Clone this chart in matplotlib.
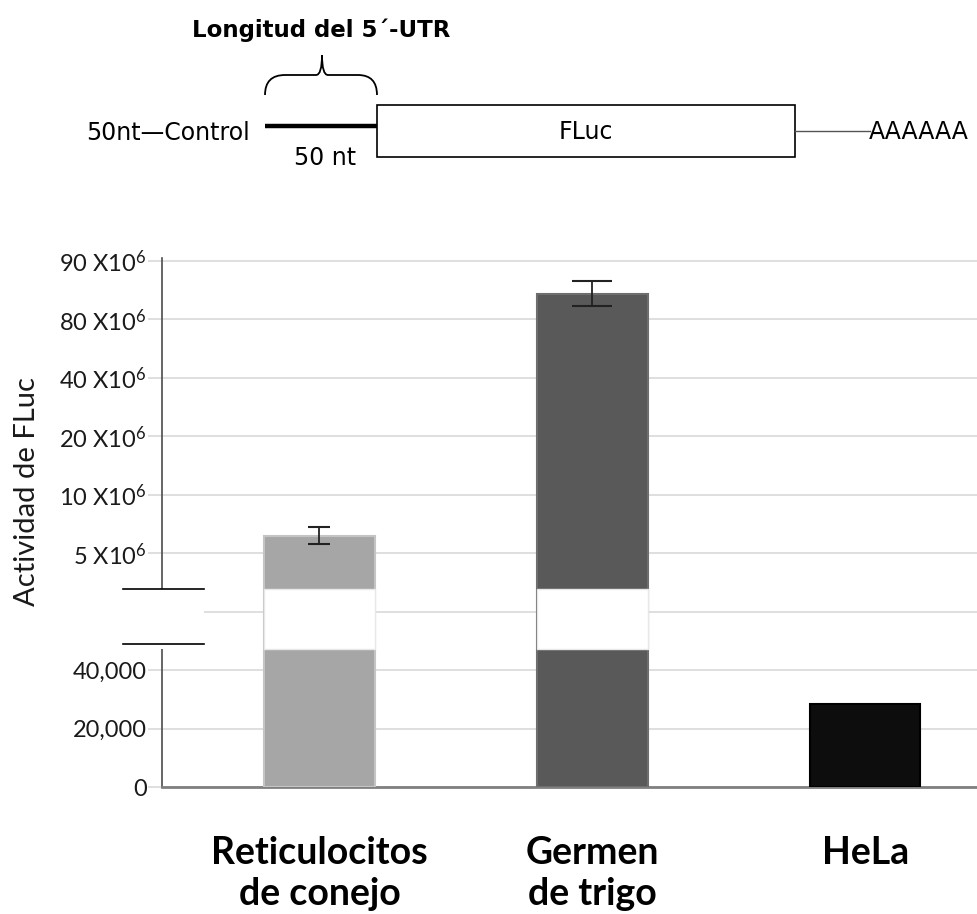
import numpy as np
import matplotlib.pyplot as plt
from matplotlib.patches import Rectangle, PathPatch
from matplotlib.path import Path

# datos
categorias = ['Reticulocitos\nde conejo', 'Germen\nde trigo', 'HeLa']
actividad = [6.5e6, 84.4e6, 28500]
error = [0.75e6, 2.1e6, 0]

tick_valores = [0, 20000, 40000, 5e6, 10e6, 20e6, 40e6, 80e6, 90e6]
tick_etiquetas = ['0', '20,000', '40,000', '5 X10$^{6}$', '10 X10$^{6}$', '20 X10$^{6}$',
                  '40 X10$^{6}$', '80 X10$^{6}$', '90 X10$^{6}$']

colores = ['#a6a6a6', '#595959', '#0d0d0d']
bordes = ['#c4c4c4', '#6e6e6e', '#000000']
caps = [8, 14.5]

# escala del eje: cada etiqueta ocupa el mismo espacio, con un corte entre 40,000 y 5 X10^6
nudos_val = [0, 20000, 40000, 5e6, 10e6, 20e6, 40e6, 80e6, 90e6, 100e6]
nudos_pos = [0, 1, 2, 4, 5, 6, 7, 8, 9, 10]
fwd = lambda v: np.interp(v, nudos_val, nudos_pos)
inv = lambda p: np.interp(p, nudos_pos, nudos_val)

plt.rcParams['mathtext.fontset'] = 'custom'
plt.rcParams['mathtext.rm'] = 'Lato'
plt.rcParams['mathtext.it'] = 'Lato:italic'
plt.rcParams['mathtext.bf'] = 'Lato:bold'

W, H = 977, 914
fig = plt.figure(figsize=(W / 100, H / 100), dpi=100)
fam = ['Lato', 'DejaVu Sans']
diag = 'DejaVu Sans'

ax = fig.add_axes([162 / W, 1 - 787 / H, 815 / W, 529 / H])
ax.set_yscale('function', functions=(fwd, inv))
ax.set_ylim(0, inv(9.05))
ax.set_xlim(-0.577, 2.41)

x = np.arange(len(categorias))
ax.bar(x, actividad, width=0.405, color=colores, edgecolor=bordes, linewidth=1.5, zorder=3)

# franja blanca del corte sobre las barras altas
lo, hi = inv(2.36), inv(3.38)
altas = [i for i, v in enumerate(actividad) if v > hi]
ax.bar(x[altas], hi - lo, bottom=lo, width=0.405, color='white',
       edgecolor='#e8e8e8', linewidth=1, zorder=4)

for i in range(len(categorias)):
    if error[i] > 0:
        ax.errorbar(x[i], actividad[i], yerr=error[i], fmt='none', ecolor='#222222',
                    elinewidth=1.3, capsize=caps[i], capthick=1.5, zorder=5)

ax.set_yticks(tick_valores + [inv(3)])
ax.set_yticklabels(tick_etiquetas + [''], fontsize=17, family=fam, color='#1a1a1a')
ax.yaxis.grid(True, color='#d9d9d9', linewidth=1.2)
ax.set_axisbelow(True)
ax.tick_params(axis='y', length=10, width=1.2, color='#d9d9d9', pad=1)
ax.set_xticks(x)
ax.set_xticklabels(categorias, fontsize=27, fontweight='bold', family=fam, linespacing=1.25)
ax.tick_params(axis='x', length=0, pad=35)
for s in ['top', 'right']:
    ax.spines[s].set_visible(False)
ax.spines['left'].set_color('#4d4d4d')
ax.spines['left'].set_linewidth(1.2)
ax.spines['bottom'].set_color('#808080')
ax.spines['bottom'].set_linewidth(2)

# marcas del corte en el eje
tr = ax.get_yaxis_transform()
ax.add_patch(Rectangle((-0.06, lo), 0.1115, inv(3.39) - lo, transform=tr,
                       facecolor='white', edgecolor='none', clip_on=False, zorder=6))
for p in [3.39, 2.45]:
    ax.plot([-0.048, 0.0515], [inv(p), inv(p)], transform=tr, color='black',
            linewidth=1.2, clip_on=False, zorder=7)

fig.text(27 / W, 1 - 492 / H, 'Actividad de FLuc', rotation=90, ha='center',
         va='center', fontsize=21, family=fam, color='#1a1a1a')

# esquema del ARNm arriba
top = fig.add_axes([0, 0, 1, 1], zorder=-1)
top.set_xlim(0, W)
top.set_ylim(H, 0)
top.axis('off')

top.text(321, 30, 'Longitud del 5´-UTR', ha='center', va='center', fontsize=16.5,
         fontweight='bold', family=diag)
llave = Path([(265, 95), (265, 75), (285, 75), (316, 75), (322, 75), (322, 55),
              (322, 75), (328, 75), (358, 75), (377, 75), (377, 95)],
             [Path.MOVETO, Path.CURVE3, Path.CURVE3, Path.LINETO, Path.CURVE3, Path.CURVE3,
              Path.CURVE3, Path.CURVE3, Path.LINETO, Path.CURVE3, Path.CURVE3])
top.add_patch(PathPatch(llave, facecolor='none', edgecolor='black', linewidth=1.3))
top.plot([265, 377], [126, 126], color='black', linewidth=3.2, solid_capstyle='butt')
top.text(250, 133, '50nt—Control', ha='right', va='center', fontsize=17, family=diag)
top.text(325, 158, '50 nt', ha='center', va='center', fontsize=17, family=diag)
top.add_patch(Rectangle((377, 105), 418, 52, facecolor='white', edgecolor='black', linewidth=1.2))
top.text(586, 132, 'FLuc', ha='center', va='center', fontsize=17, family=diag)
top.plot([795, 870], [131, 131], color='#555555', linewidth=1)
top.text(869, 132, 'AAAAAA', ha='left', va='center', fontsize=17, family=diag, clip_on=False)

fig.savefig('out.png', dpi=100)
